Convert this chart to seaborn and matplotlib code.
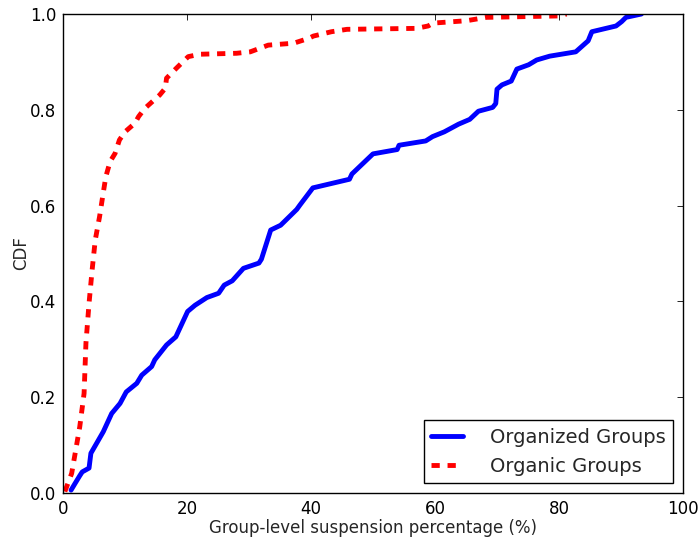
import numpy as np
import pandas as pd
import matplotlib
matplotlib.use("Agg")
import matplotlib.pyplot as plt
import seaborn as sns

organized_x = [1.3, 1.9, 2.7, 3.1, 4.2, 4.5, 6.5, 7.85, 9.2, 10.2, 11.9, 12.7, 14.3, 14.8,
               16.7, 18.2, 20.1, 21.3, 23.2, 25.1, 26.0, 27.3, 29.1, 31.6, 32.0, 33.5,
               35.1, 37.7, 38.2, 40.3, 46.2, 46.6, 50.0, 53.9, 54.2, 58.5, 59.6, 61.5,
               63.8, 65.6, 67.0, 69.3, 69.8, 70.0, 70.8, 72.3, 73.2, 75.1, 76.4, 78.5,
               82.7, 84.7, 85.3, 89.2, 90.1, 90.8, 93.3]
organized_y = [0.006, 0.019, 0.036, 0.044, 0.052, 0.083, 0.128, 0.166, 0.187, 0.211, 0.229,
               0.246, 0.264, 0.278, 0.309, 0.326, 0.379, 0.392, 0.408, 0.417, 0.434, 0.443,
               0.469, 0.480, 0.488, 0.549, 0.559, 0.592, 0.601, 0.637, 0.655, 0.666, 0.708,
               0.717, 0.726, 0.735, 0.744, 0.754, 0.770, 0.780, 0.797, 0.805, 0.813, 0.843,
               0.852, 0.860, 0.885, 0.894, 0.904, 0.912, 0.921, 0.944, 0.963, 0.975, 0.984,
               0.993, 1.0]

organic_x = [0.3, 1.4, 2.7, 3.4, 3.7, 4.2, 4.7, 5.2, 5.9, 6.4, 6.9, 7.6, 8.4, 9.1, 10.0,
             11.6, 12.2, 13.2, 15.6, 16.5, 16.7, 18.3, 20.2, 22.1, 28.0, 30.2, 33.1, 37.2,
             39.6, 40.4, 43.3, 45.8, 57.0, 58.9, 59.7, 65.1, 68.3, 80.2, 81.2]
organic_y = [0.003, 0.041, 0.138, 0.208, 0.313, 0.396, 0.466, 0.528, 0.577, 0.619, 0.660,
             0.692, 0.709, 0.737, 0.754, 0.772, 0.786, 0.803, 0.831, 0.845, 0.866, 0.887,
             0.911, 0.916, 0.918, 0.921, 0.935, 0.939, 0.949, 0.954, 0.963, 0.968, 0.970,
             0.975, 0.981, 0.986, 0.993, 0.996, 1.0]

labels = ["Organized Groups", "Organic Groups"]

df = pd.concat([
    pd.DataFrame({"x": organized_x, "y": organized_y, "group": labels[0]}),
    pd.DataFrame({"x": organic_x, "y": organic_y, "group": labels[1]}),
], ignore_index=True)

sns.set_style("white")
plt.rcParams["font.family"] = ["DejaVu Sans"]
plt.rcParams.update({
    "xtick.direction": "in", "ytick.direction": "in",
    "xtick.top": True, "ytick.right": True,
    "xtick.major.size": 4, "ytick.major.size": 4,
    "xtick.major.width": 0.6, "ytick.major.width": 0.6,
    "xtick.color": "black", "ytick.color": "black",
    "axes.edgecolor": "black", "axes.linewidth": 1.0,
})

fig = plt.figure(figsize=(6.99, 5.42), dpi=100)
ax = fig.add_axes([63/699, 49/542, 620/699, 479/542])

sns.lineplot(data=df, x="x", y="y", hue="group", style="group",
             palette={labels[0]: "#0000ff", labels[1]: "#ff0000"},
             dashes={labels[0]: "", labels[1]: (1.7, 1.6)},
             sort=False, estimator=None, linewidth=3.5, ax=ax)

ax.set_xlim(0, 100)
ax.set_ylim(0, 1.0)
ax.set_xticks([0, 20, 40, 60, 80, 100])
ax.set_yticks([0.0, 0.2, 0.4, 0.6, 0.8, 1.0])
ax.tick_params(labelsize=12, pad=5)
ax.set_xlabel("Group-level suspension percentage (%)", fontsize=12, labelpad=1)
ax.set_ylabel("CDF", fontsize=12, labelpad=0)

leg = ax.legend(loc="lower right", fontsize=14, frameon=True, fancybox=False,
                edgecolor="black", framealpha=1, borderaxespad=0.5,
                handlelength=1.6, handletextpad=1.4, borderpad=0.4)
leg.get_frame().set_linewidth(1.0)
for h in leg.get_lines():
    h.set_linewidth(3.5)

fig.savefig("out.png", dpi=100)
